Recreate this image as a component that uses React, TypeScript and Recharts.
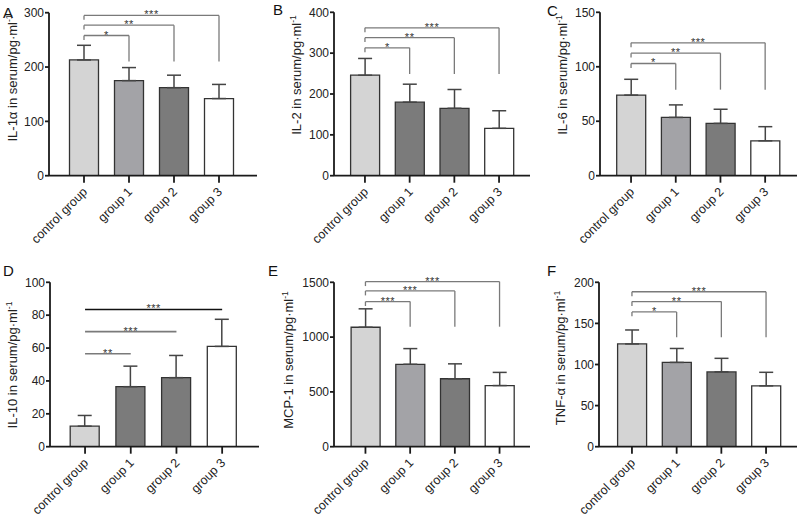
import React from 'react';
import { BarChart, Bar, XAxis, YAxis, Cell, ErrorBar, ReferenceLine } from 'recharts';

const groups = ['control group', 'group 1', 'group 2', 'group 3'];

// A: IL-1α
const il1aMean = [213, 175, 162, 142];
const il1aSd = [27, 24, 23, 26];
const il1aTicks = [0, 100, 200, 300];
const il1aSig = [
  { target: 'group 1', y: 258, mark: '*' },
  { target: 'group 2', y: 277, mark: '**' },
  { target: 'group 3', y: 295, mark: '***' },
];

// B: IL-2
const il2Mean = [246, 180, 165, 116];
const il2Sd = [41, 44, 46, 43];
const il2Ticks = [0, 100, 200, 300, 400];
const il2Sig = [
  { target: 'group 1', y: 313, mark: '*' },
  { target: 'group 2', y: 338, mark: '**' },
  { target: 'group 3', y: 362, mark: '***' },
];

// C: IL-6
const il6Mean = [74, 53.5, 48, 32];
const il6Sd = [14.5, 11.5, 13, 13];
const il6Ticks = [0, 50, 100, 150];
const il6Sig = [
  { target: 'group 1', y: 103, mark: '*' },
  { target: 'group 2', y: 112.5, mark: '**' },
  { target: 'group 3', y: 122, mark: '***' },
];

// D: IL-10
const il10Mean = [12.5, 36.5, 42, 61];
const il10Sd = [6.5, 12.5, 13.5, 16.5];
const il10Ticks = [0, 20, 40, 60, 80, 100];
const il10Sig = [
  { target: 'group 1', y: 56.5, mark: '**' },
  { target: 'group 2', y: 70, mark: '***' },
  { target: 'group 3', y: 83.5, mark: '***' },
];

// E: MCP-1
const mcp1Mean = [1090, 752, 620, 558];
const mcp1Sd = [168, 143, 136, 120];
const mcp1Ticks = [0, 500, 1000, 1500];
const mcp1Sig = [
  { target: 'group 1', y: 1324, mark: '***' },
  { target: 'group 2', y: 1421, mark: '***' },
  { target: 'group 3', y: 1506, mark: '***' },
];

// F: TNF-α
const tnfMean = [125, 102.5, 91, 74];
const tnfSd = [17, 17, 16.5, 16.5];
const tnfTicks = [0, 50, 100, 150, 200];
const tnfSig = [
  { target: 'group 1', y: 164, mark: '*' },
  { target: 'group 2', y: 176.5, mark: '**' },
  { target: 'group 3', y: 188.5, mark: '***' },
];

const greysLight = ['#d4d4d4', '#a3a3a7', '#7b7b7b', '#ffffff'];
const greysDark = ['#d4d4d4', '#7b7b7b', '#7b7b7b', '#ffffff'];

const AXIS = '#1a1a1a';
const FONT = "'Liberation Sans', Arial, Helvetica, sans-serif";

const GroupTick = (props: any) => {
  const { x, y, payload } = props;
  const ax = x + 4;
  const ay = y + 8;
  return (
    <text x={ax} y={ay} transform={`rotate(-45 ${ax} ${ay})`} textAnchor="end" fontSize={12.5} fill="#222">
      {payload.value}
    </text>
  );
};

const StarLabel = (props: any) => {
  const { viewBox, value } = props;
  const cx = viewBox.x + viewBox.width / 2;
  return (
    <text x={cx} y={viewBox.y + 3} textAnchor="middle" fontSize={11} fill="#333" stroke="none" letterSpacing={0.5}>
      {value}
    </text>
  );
};

type PanelProps = {
  letter: string;
  label: string;
  left: number;
  top: number;
  width: number;
  height: number;
  margin: { top: number; right: number; bottom: number; left: number };
  padding: { left: number; right: number };
  ticks: number[];
  means: number[];
  sds: number[];
  sig: { target: string; y: number; mark: string }[];
  legEnd?: number;
  fills: string[];
  letterPos: [number, number];
  labelPos: [number, number];
  plainLines?: boolean;
};

function Panel(p: PanelProps) {
  const rows = groups.map((g, i) => ({ name: g, mean: p.means[i], err: [0, p.sds[i]] }));
  const max = p.ticks[p.ticks.length - 1];
  const leg = max * 0.027;
  const lines: React.ReactNode[] = [];
  p.sig.forEach((s, i) => {
    const color = p.plainLines && i === p.sig.length - 1 ? '#111' : '#7a7a7a';
    lines.push(
      <ReferenceLine
        key={`h${i}`}
        ifOverflow="visible"
        segment={[{ x: groups[0], y: s.y }, { x: s.target, y: s.y }]}
        stroke={color}
        strokeWidth={p.plainLines ? 1.6 : 1.3}
        label={<StarLabel value={s.mark} />}
      />
    );
    if (!p.plainLines && p.legEnd !== undefined) {
      lines.push(
        <ReferenceLine
          key={`l${i}`}
          ifOverflow="visible"
          segment={[{ x: groups[0], y: s.y }, { x: groups[0], y: s.y - leg }]}
          stroke={color}
          strokeWidth={1.3}
        />
      );
      lines.push(
        <ReferenceLine
          key={`r${i}`}
          ifOverflow="visible"
          segment={[{ x: s.target, y: s.y }, { x: s.target, y: p.legEnd }]}
          stroke={color}
          strokeWidth={1.3}
        />
      );
    }
  });

  return (
    <>
      <div style={{ position: 'absolute', left: p.left, top: p.top }}>
        <BarChart width={p.width} height={p.height} data={rows} margin={p.margin}>
          <XAxis
            dataKey="name"
            type="category"
            height={70}
            padding={p.padding}
            interval={0}
            tickSize={7}
            tickMargin={2}
            tick={<GroupTick />}
            axisLine={{ stroke: AXIS, strokeWidth: 1.8 }}
            tickLine={{ stroke: AXIS, strokeWidth: 1.8 }}
          />
          <YAxis
            domain={[0, max]}
            ticks={p.ticks}
            allowDataOverflow
            interval={0}
            width={40}
            tickSize={4}
            tickMargin={1}
            tick={{ fontSize: 12, fill: '#222' }}
            axisLine={{ stroke: AXIS, strokeWidth: 1.8 }}
            tickLine={{ stroke: AXIS, strokeWidth: 1.8 }}
          />
          <Bar dataKey="mean" barSize={29} stroke="#333" strokeWidth={1.3} isAnimationActive={false}>
            {rows.map((r, i) => (
              <Cell key={r.name} fill={p.fills[i]} />
            ))}
            <ErrorBar dataKey="err" direction="y" width={7} stroke="#444" strokeWidth={1.5} />
          </Bar>
          {lines}
        </BarChart>
      </div>
      <div
        style={{
          position: 'absolute',
          left: p.letterPos[0],
          top: p.letterPos[1],
          fontSize: 15,
          lineHeight: 1,
          color: '#111',
        }}
      >
        {p.letter}
      </div>
      <div
        style={{
          position: 'absolute',
          left: p.labelPos[0],
          top: p.labelPos[1],
          transform: 'translate(-50%, -50%) rotate(-90deg)',
          whiteSpace: 'nowrap',
          fontSize: 13,
          lineHeight: 1,
          color: '#222',
        }}
      >
        {p.label}
        <span style={{ fontSize: 8.5, position: 'relative', top: -5 }}>-1</span>
      </div>
    </>
  );
}

export default function App() {
  return (
    <div
      style={{
        position: 'absolute',
        left: 0,
        top: 0,
        width: 800,
        height: 519,
        background: '#fff',
        fontFamily: FONT,
        overflow: 'hidden',
      }}
    >
      <Panel
        letter="A"
        label="IL-1α in serum/pg·ml"
        left={0}
        top={0}
        width={265}
        height={260}
        margin={{ top: 12.7, right: 8, bottom: 14.3, left: 9 }}
        padding={{ left: 12.5, right: 15.5 }}
        ticks={il1aTicks}
        means={il1aMean}
        sds={il1aSd}
        sig={il1aSig}
        legEnd={210}
        fills={greysLight}
        letterPos={[3, 4.7]}
        labelPos={[12, 78]}
      />
      <Panel
        letter="B"
        label="IL-2 in serum/pg·ml"
        left={265}
        top={0}
        width={267}
        height={260}
        margin={{ top: 12.3, right: 2, bottom: 14.3, left: 29 }}
        padding={{ left: 8.6, right: 8.6 }}
        ticks={il2Ticks}
        means={il2Mean}
        sds={il2Sd}
        sig={il2Sig}
        legEnd={249}
        fills={greysDark}
        letterPos={[273, 2]}
        labelPos={[296, 75]}
      />
      <Panel
        letter="C"
        label="IL-6 in serum/pg·ml"
        left={530}
        top={0}
        width={270}
        height={260}
        margin={{ top: 12.3, right: 3, bottom: 14.3, left: 30 }}
        padding={{ left: 8.7, right: 9.5 }}
        ticks={il6Ticks}
        means={il6Mean}
        sds={il6Sd}
        sig={il6Sig}
        legEnd={79}
        fills={greysLight}
        letterPos={[547, 3]}
        labelPos={[562, 75]}
      />
      <Panel
        letter="D"
        label="IL-10 in serum/pg·ml"
        left={0}
        top={260}
        width={265}
        height={259}
        margin={{ top: 22.3, right: 6, bottom: 2.3, left: 10 }}
        padding={{ left: 12.2, right: 14 }}
        ticks={il10Ticks}
        means={il10Mean}
        sds={il10Sd}
        sig={il10Sig}
        fills={greysDark}
        letterPos={[3, 263]}
        labelPos={[12, 365]}
        plainLines
      />
      <Panel
        letter="E"
        label="MCP-1 in serum/pg·ml"
        left={265}
        top={260}
        width={267}
        height={259}
        margin={{ top: 22.3, right: 2, bottom: 2.3, left: 29 }}
        padding={{ left: 9.1, right: 8.1 }}
        ticks={mcp1Ticks}
        means={mcp1Mean}
        sds={mcp1Sd}
        sig={mcp1Sig}
        legEnd={1095}
        fills={greysLight}
        letterPos={[268, 263]}
        labelPos={[288, 360]}
      />
      <Panel
        letter="F"
        label="TNF-α in serum/pg·ml"
        left={530}
        top={260}
        width={270}
        height={259}
        margin={{ top: 22.3, right: 3, bottom: 2.3, left: 29 }}
        padding={{ left: 10.6, right: 8.6 }}
        ticks={tnfTicks}
        means={tnfMean}
        sds={tnfSd}
        sig={tnfSig}
        legEnd={133}
        fills={greysLight}
        letterPos={[547, 263]}
        labelPos={[560, 358]}
      />
    </div>
  );
}
